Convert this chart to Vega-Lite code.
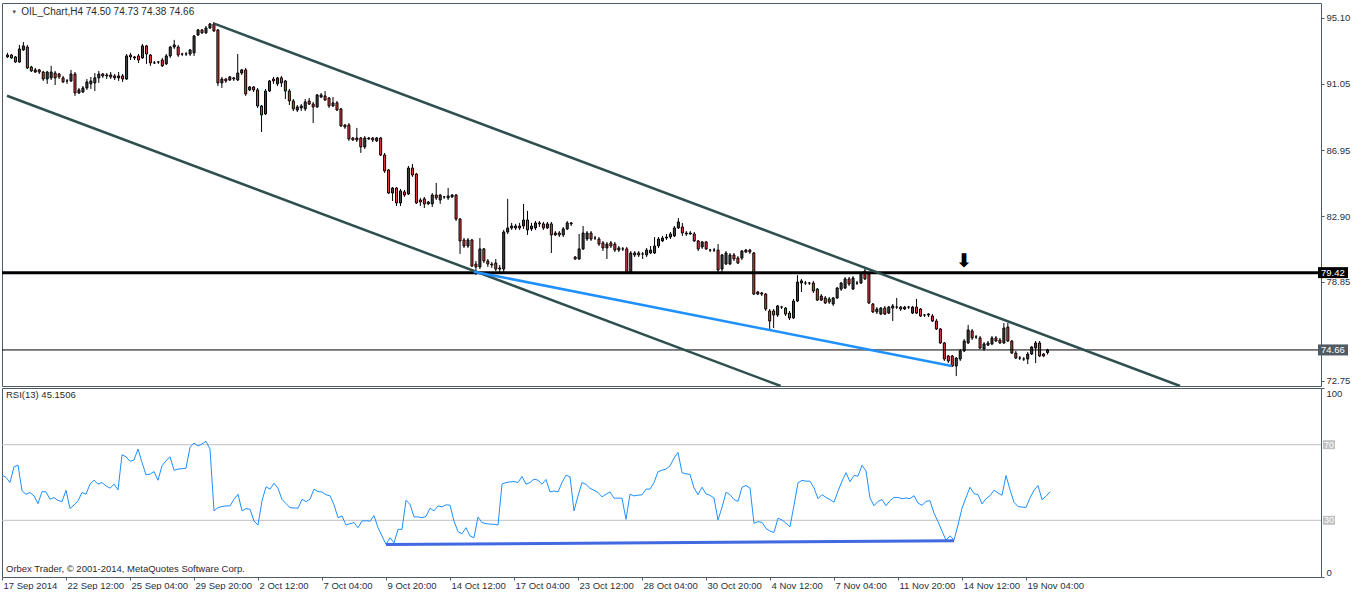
{
"$schema": "https://vega.github.io/schema/vega-lite/v6.json",
"background": "white",
"padding": {"left": -1, "top": 2, "right": 0, "bottom": 0},
"bounds": "flush",
"config": {
 "view": {"stroke": "#4e5a64", "strokeWidth": 1},
 "concat": {"spacing": 2},
 "font": "Liberation Sans",
 "axis": {"labelFont": "Liberation Sans", "labelFontSize": 9.5, "labelColor": "#27313a", "tickColor": "#4e5a64", "domain": false, "grid": false, "title": null},
 "text": {"font": "Liberation Sans"}
},
"datasets": {
 "bars": [
{"i":0,"o":92.70,"h":92.95,"l":92.64,"c":92.82,"r":53.9},
{"i":1,"o":92.82,"h":92.88,"l":92.58,"c":92.64,"r":52.7},
{"i":2,"o":92.70,"h":92.76,"l":92.33,"c":92.39,"r":50},
{"i":3,"o":92.39,"h":93.44,"l":92.33,"c":93.19,"r":58.3},
{"i":4,"o":93.13,"h":93.62,"l":93.07,"c":93.38,"r":59.2},
{"i":5,"o":93.31,"h":93.44,"l":91.96,"c":92.02,"r":45.6},
{"i":6,"o":92.08,"h":92.15,"l":91.77,"c":91.84,"r":43.8},
{"i":7,"o":91.77,"h":92.02,"l":91.71,"c":91.90,"r":44.7},
{"i":8,"o":91.90,"h":91.96,"l":91.65,"c":91.77,"r":42.9},
{"i":9,"o":91.77,"h":91.84,"l":91.22,"c":91.34,"r":38.8},
{"i":10,"o":91.34,"h":91.84,"l":91.04,"c":91.77,"r":45.2},
{"i":11,"o":91.41,"h":92.15,"l":91.28,"c":91.77,"r":45},
{"i":12,"o":91.71,"h":91.84,"l":90.97,"c":91.41,"r":41.2},
{"i":13,"o":91.65,"h":91.71,"l":91.34,"c":91.47,"r":42},
{"i":14,"o":91.41,"h":91.53,"l":91.10,"c":91.16,"r":40.5},
{"i":15,"o":91.22,"h":91.34,"l":91.04,"c":91.22,"r":39.9},
{"i":16,"o":91.22,"h":91.90,"l":91.16,"c":91.65,"r":45.9},
{"i":17,"o":91.65,"h":91.77,"l":90.30,"c":90.48,"r":36.2},
{"i":18,"o":90.48,"h":90.79,"l":90.42,"c":90.67,"r":38},
{"i":19,"o":90.54,"h":90.91,"l":90.48,"c":90.79,"r":40.3},
{"i":20,"o":90.79,"h":91.34,"l":90.67,"c":91.16,"r":44.7},
{"i":21,"o":91.04,"h":91.47,"l":90.73,"c":91.22,"r":43.8},
{"i":22,"o":91.10,"h":91.71,"l":90.60,"c":91.41,"r":49.1},
{"i":23,"o":91.41,"h":91.84,"l":91.10,"c":91.65,"r":51.2},
{"i":24,"o":91.65,"h":91.71,"l":91.41,"c":91.53,"r":49.1},
{"i":25,"o":91.53,"h":91.71,"l":91.34,"c":91.59,"r":50},
{"i":26,"o":91.59,"h":91.77,"l":91.34,"c":91.47,"r":48.2},
{"i":27,"o":91.53,"h":91.65,"l":91.28,"c":91.41,"r":47},
{"i":28,"o":91.41,"h":91.77,"l":91.22,"c":91.53,"r":49.1},
{"i":29,"o":91.53,"h":91.65,"l":91.16,"c":91.34,"r":46.1},
{"i":30,"o":91.34,"h":92.88,"l":91.28,"c":92.76,"r":64.7},
{"i":31,"o":92.82,"h":92.95,"l":92.51,"c":92.70,"r":63.6},
{"i":32,"o":92.64,"h":92.76,"l":92.51,"c":92.70,"r":61.2},
{"i":33,"o":92.76,"h":92.88,"l":92.33,"c":92.51,"r":61.9},
{"i":34,"o":92.64,"h":93.50,"l":92.58,"c":93.38,"r":67.7},
{"i":35,"o":93.38,"h":93.44,"l":92.27,"c":92.88,"r":60.6},
{"i":36,"o":92.82,"h":92.88,"l":92.15,"c":92.33,"r":54.1},
{"i":37,"o":92.33,"h":92.45,"l":92.27,"c":92.33,"r":54.4},
{"i":38,"o":92.39,"h":92.45,"l":92.27,"c":92.39,"r":55.8},
{"i":39,"o":92.51,"h":92.64,"l":92.08,"c":92.15,"r":51.2},
{"i":40,"o":92.27,"h":92.88,"l":92.21,"c":92.76,"r":58.8},
{"i":41,"o":92.76,"h":93.38,"l":92.64,"c":93.31,"r":61.5},
{"i":42,"o":93.31,"h":93.75,"l":93.19,"c":93.44,"r":63.6},
{"i":43,"o":93.31,"h":93.44,"l":92.70,"c":92.82,"r":56.5},
{"i":44,"o":92.88,"h":92.95,"l":92.76,"c":92.88,"r":57.1},
{"i":45,"o":92.88,"h":93.01,"l":92.76,"c":92.88,"r":57.3},
{"i":46,"o":92.88,"h":93.19,"l":92.76,"c":93.13,"r":57.6},
{"i":47,"o":92.95,"h":94.05,"l":92.76,"c":93.99,"r":68.6},
{"i":48,"o":94.05,"h":94.42,"l":93.99,"c":94.36,"r":70.9},
{"i":49,"o":94.36,"h":94.42,"l":94.12,"c":94.18,"r":69.3},
{"i":50,"o":94.18,"h":94.61,"l":94.12,"c":94.48,"r":70.4},
{"i":51,"o":94.48,"h":94.79,"l":94.42,"c":94.73,"r":71.8},
{"i":52,"o":94.73,"h":94.85,"l":94.24,"c":94.30,"r":67.7},
{"i":53,"o":94.36,"h":94.42,"l":90.91,"c":91.10,"r":35},
{"i":54,"o":91.10,"h":91.47,"l":90.79,"c":91.34,"r":36.7},
{"i":55,"o":91.34,"h":91.41,"l":91.10,"c":91.22,"r":37.3},
{"i":56,"o":91.28,"h":91.53,"l":91.22,"c":91.47,"r":37.6},
{"i":57,"o":91.41,"h":91.47,"l":91.22,"c":91.34,"r":37.6},
{"i":58,"o":91.28,"h":92.88,"l":91.22,"c":91.71,"r":41.1},
{"i":59,"o":91.71,"h":91.96,"l":91.59,"c":91.90,"r":43.8},
{"i":60,"o":91.90,"h":92.02,"l":90.30,"c":90.42,"r":35},
{"i":61,"o":90.67,"h":90.91,"l":90.60,"c":90.85,"r":36.2},
{"i":62,"o":90.85,"h":90.91,"l":90.54,"c":90.67,"r":35.8},
{"i":63,"o":90.67,"h":90.79,"l":89.56,"c":89.68,"r":29.6},
{"i":64,"o":89.68,"h":89.74,"l":88.08,"c":89.13,"r":27.5},
{"i":65,"o":89.19,"h":90.73,"l":89.13,"c":90.60,"r":40.3},
{"i":66,"o":90.60,"h":91.28,"l":90.54,"c":91.22,"r":47.7},
{"i":67,"o":91.34,"h":91.47,"l":91.04,"c":91.22,"r":46.5},
{"i":68,"o":91.04,"h":91.47,"l":90.91,"c":91.41,"r":49.6},
{"i":69,"o":91.41,"h":91.53,"l":90.85,"c":91.10,"r":46.9},
{"i":70,"o":91.22,"h":91.28,"l":90.11,"c":90.60,"r":41.1},
{"i":71,"o":90.60,"h":90.73,"l":89.74,"c":89.99,"r":38.8},
{"i":72,"o":89.99,"h":90.11,"l":89.37,"c":89.50,"r":36.7},
{"i":73,"o":89.43,"h":89.74,"l":89.31,"c":89.62,"r":36.5},
{"i":74,"o":89.56,"h":89.80,"l":89.37,"c":89.68,"r":36.4},
{"i":75,"o":89.50,"h":90.11,"l":89.37,"c":89.93,"r":41.1},
{"i":76,"o":89.99,"h":90.17,"l":89.74,"c":89.80,"r":39.9},
{"i":77,"o":89.80,"h":89.93,"l":88.63,"c":89.62,"r":41.1},
{"i":78,"o":89.62,"h":90.42,"l":89.56,"c":90.36,"r":46.5},
{"i":79,"o":90.23,"h":90.48,"l":90.17,"c":90.36,"r":45.2},
{"i":80,"o":90.30,"h":90.60,"l":89.99,"c":90.05,"r":45},
{"i":81,"o":90.17,"h":90.23,"l":89.56,"c":89.68,"r":43.5},
{"i":82,"o":89.68,"h":90.23,"l":89.62,"c":89.87,"r":43},
{"i":83,"o":89.87,"h":89.99,"l":89.37,"c":89.43,"r":38.2},
{"i":84,"o":89.50,"h":89.56,"l":88.39,"c":88.45,"r":31.4},
{"i":85,"o":88.51,"h":88.57,"l":88.27,"c":88.39,"r":32.3},
{"i":86,"o":88.51,"h":88.63,"l":87.53,"c":87.65,"r":27.5},
{"i":87,"o":87.71,"h":87.77,"l":87.53,"c":87.59,"r":28.2},
{"i":88,"o":87.59,"h":88.33,"l":87.46,"c":87.71,"r":28.8},
{"i":89,"o":87.71,"h":87.77,"l":86.79,"c":87.16,"r":26.1},
{"i":90,"o":87.16,"h":87.83,"l":87.03,"c":87.71,"r":29.6},
{"i":91,"o":87.71,"h":87.77,"l":87.59,"c":87.65,"r":29.8},
{"i":92,"o":87.71,"h":87.77,"l":87.46,"c":87.59,"r":29.5},
{"i":93,"o":87.53,"h":87.77,"l":87.46,"c":87.71,"r":32.5},
{"i":94,"o":87.71,"h":87.77,"l":86.60,"c":86.66,"r":26.1},
{"i":95,"o":86.66,"h":86.79,"l":85.56,"c":85.68,"r":21.7},
{"i":96,"o":85.74,"h":85.80,"l":84.26,"c":84.32,"r":17.3},
{"i":97,"o":84.32,"h":84.69,"l":83.83,"c":84.63,"r":20.8},
{"i":98,"o":84.63,"h":84.69,"l":83.52,"c":83.71,"r":18.1},
{"i":99,"o":83.71,"h":84.57,"l":83.52,"c":84.45,"r":25.2},
{"i":100,"o":84.39,"h":84.51,"l":84.08,"c":84.20,"r":25.2},
{"i":101,"o":84.26,"h":85.99,"l":84.20,"c":85.86,"r":40.6},
{"i":102,"o":85.86,"h":86.11,"l":85.31,"c":85.43,"r":38.5},
{"i":103,"o":85.49,"h":85.56,"l":83.65,"c":83.71,"r":31.8},
{"i":104,"o":83.89,"h":84.02,"l":83.52,"c":83.77,"r":31.8},
{"i":105,"o":83.96,"h":84.08,"l":83.40,"c":83.65,"r":31.4},
{"i":106,"o":83.65,"h":83.83,"l":83.59,"c":83.77,"r":32},
{"i":107,"o":83.65,"h":84.32,"l":83.46,"c":84.20,"r":36.4},
{"i":108,"o":84.20,"h":84.94,"l":83.89,"c":84.02,"r":35},
{"i":109,"o":83.89,"h":84.26,"l":83.65,"c":84.20,"r":37.6},
{"i":110,"o":84.08,"h":84.14,"l":83.96,"c":84.08,"r":37.1},
{"i":111,"o":84.02,"h":84.63,"l":83.89,"c":84.14,"r":38.2},
{"i":112,"o":84.08,"h":84.26,"l":84.02,"c":84.20,"r":38},
{"i":113,"o":84.20,"h":84.26,"l":82.60,"c":82.72,"r":29.6},
{"i":114,"o":82.72,"h":82.78,"l":80.57,"c":81.37,"r":24},
{"i":115,"o":81.43,"h":81.55,"l":80.94,"c":81.06,"r":22.9},
{"i":116,"o":81.06,"h":81.55,"l":80.94,"c":81.43,"r":26.1},
{"i":117,"o":81.43,"h":81.49,"l":79.77,"c":79.83,"r":21.7},
{"i":118,"o":79.95,"h":80.14,"l":79.27,"c":79.77,"r":20.8},
{"i":119,"o":79.77,"h":81.55,"l":79.64,"c":80.88,"r":31.8},
{"i":120,"o":80.88,"h":80.94,"l":80.01,"c":80.14,"r":28.8},
{"i":121,"o":80.14,"h":80.26,"l":79.77,"c":79.95,"r":28.2},
{"i":122,"o":79.89,"h":80.07,"l":79.71,"c":79.95,"r":28},
{"i":123,"o":80.01,"h":80.26,"l":79.52,"c":79.64,"r":27.9},
{"i":124,"o":79.71,"h":79.89,"l":79.40,"c":79.64,"r":27.5},
{"i":125,"o":79.64,"h":82.05,"l":79.40,"c":81.92,"r":49.1},
{"i":126,"o":81.92,"h":83.96,"l":81.80,"c":82.17,"r":50},
{"i":127,"o":82.17,"h":82.48,"l":82.05,"c":82.29,"r":50.3},
{"i":128,"o":82.17,"h":82.42,"l":82.05,"c":82.29,"r":50.5},
{"i":129,"o":82.29,"h":82.48,"l":82.05,"c":82.17,"r":50},
{"i":130,"o":82.29,"h":83.65,"l":82.11,"c":82.66,"r":53.2},
{"i":131,"o":82.66,"h":83.22,"l":81.74,"c":82.05,"r":49.1},
{"i":132,"o":82.11,"h":82.48,"l":81.98,"c":82.29,"r":50},
{"i":133,"o":82.17,"h":82.60,"l":82.05,"c":82.48,"r":51.8},
{"i":134,"o":82.48,"h":82.60,"l":82.23,"c":82.42,"r":51.2},
{"i":135,"o":82.42,"h":82.54,"l":82.05,"c":82.17,"r":49.1},
{"i":136,"o":82.17,"h":82.54,"l":82.11,"c":82.42,"r":51.6},
{"i":137,"o":82.42,"h":82.54,"l":80.63,"c":81.74,"r":45},
{"i":138,"o":81.74,"h":81.98,"l":81.68,"c":81.86,"r":45.5},
{"i":139,"o":81.86,"h":81.98,"l":81.61,"c":81.74,"r":45},
{"i":140,"o":81.74,"h":82.23,"l":81.61,"c":82.11,"r":50},
{"i":141,"o":82.11,"h":82.60,"l":82.05,"c":82.48,"r":53.9},
{"i":142,"o":82.48,"h":82.54,"l":82.29,"c":82.42,"r":53},
{"i":143,"o":80.38,"h":80.44,"l":80.20,"c":80.26,"r":35},
{"i":144,"o":80.26,"h":81.80,"l":80.20,"c":80.88,"r":42.9},
{"i":145,"o":80.88,"h":82.29,"l":80.81,"c":81.86,"r":50},
{"i":146,"o":81.49,"h":81.98,"l":81.37,"c":81.86,"r":49},
{"i":147,"o":81.86,"h":81.98,"l":81.37,"c":81.49,"r":46.9},
{"i":148,"o":81.55,"h":81.68,"l":81.43,"c":81.55,"r":45.9},
{"i":149,"o":81.49,"h":81.61,"l":81.06,"c":81.18,"r":44.7},
{"i":150,"o":81.25,"h":81.37,"l":80.75,"c":80.94,"r":42.4},
{"i":151,"o":80.94,"h":81.31,"l":80.26,"c":81.18,"r":43.8},
{"i":152,"o":81.25,"h":81.37,"l":80.94,"c":81.06,"r":45},
{"i":153,"o":81.18,"h":81.31,"l":80.69,"c":80.81,"r":41.7},
{"i":154,"o":80.81,"h":81.06,"l":80.69,"c":80.94,"r":41.7},
{"i":155,"o":80.88,"h":81.00,"l":80.75,"c":80.88,"r":41.7},
{"i":156,"o":80.88,"h":81.00,"l":79.40,"c":79.46,"r":30.5},
{"i":157,"o":79.46,"h":80.75,"l":79.40,"c":80.63,"r":43.8},
{"i":158,"o":80.51,"h":80.75,"l":80.38,"c":80.63,"r":42.9},
{"i":159,"o":80.63,"h":80.75,"l":80.38,"c":80.51,"r":43.3},
{"i":160,"o":80.57,"h":80.69,"l":80.26,"c":80.57,"r":43.5},
{"i":161,"o":80.51,"h":80.94,"l":80.38,"c":80.81,"r":46.5},
{"i":162,"o":80.63,"h":81.06,"l":80.57,"c":80.81,"r":46.5},
{"i":163,"o":80.63,"h":81.61,"l":80.57,"c":81.06,"r":50},
{"i":164,"o":81.06,"h":81.61,"l":80.94,"c":81.49,"r":55.7},
{"i":165,"o":81.37,"h":81.68,"l":81.31,"c":81.55,"r":56.5},
{"i":166,"o":81.55,"h":81.80,"l":81.43,"c":81.61,"r":57.1},
{"i":167,"o":81.61,"h":81.92,"l":81.49,"c":81.80,"r":58.8},
{"i":168,"o":81.68,"h":82.29,"l":81.61,"c":82.17,"r":62.9},
{"i":169,"o":82.17,"h":82.78,"l":82.11,"c":82.54,"r":65.9},
{"i":170,"o":82.23,"h":82.48,"l":81.68,"c":81.86,"r":55.2},
{"i":171,"o":81.86,"h":81.98,"l":81.68,"c":81.80,"r":54.6},
{"i":172,"o":81.80,"h":81.98,"l":81.74,"c":81.86,"r":54.3},
{"i":173,"o":81.80,"h":81.92,"l":81.31,"c":81.37,"r":47.1},
{"i":174,"o":81.37,"h":81.43,"l":80.75,"c":80.88,"r":43.6},
{"i":175,"o":81.00,"h":81.37,"l":80.88,"c":81.31,"r":47.5},
{"i":176,"o":81.31,"h":81.37,"l":80.81,"c":80.88,"r":43.9},
{"i":177,"o":80.81,"h":80.88,"l":80.69,"c":80.81,"r":43.2},
{"i":178,"o":80.81,"h":80.94,"l":80.69,"c":80.81,"r":41.8},
{"i":179,"o":80.81,"h":81.18,"l":79.46,"c":79.58,"r":30.2},
{"i":180,"o":79.64,"h":80.57,"l":79.46,"c":80.51,"r":36.8},
{"i":181,"o":79.95,"h":80.75,"l":79.89,"c":80.63,"r":44.8},
{"i":182,"o":79.95,"h":80.63,"l":79.89,"c":80.51,"r":43.6},
{"i":183,"o":80.51,"h":80.63,"l":80.14,"c":80.26,"r":41},
{"i":184,"o":80.32,"h":80.44,"l":79.95,"c":80.01,"r":40},
{"i":185,"o":80.32,"h":80.81,"l":80.20,"c":80.75,"r":47.5},
{"i":186,"o":80.69,"h":80.88,"l":80.63,"c":80.81,"r":48.4},
{"i":187,"o":80.81,"h":80.88,"l":80.57,"c":80.69,"r":47.1},
{"i":188,"o":80.63,"h":80.69,"l":78.04,"c":78.10,"r":28.4},
{"i":189,"o":78.10,"h":78.29,"l":78.04,"c":78.23,"r":29.3},
{"i":190,"o":78.17,"h":78.23,"l":77.98,"c":78.10,"r":28.9},
{"i":191,"o":78.10,"h":78.17,"l":77.06,"c":77.18,"r":25.7},
{"i":192,"o":77.06,"h":77.18,"l":75.83,"c":76.44,"r":24.3},
{"i":193,"o":77.06,"h":77.18,"l":76.01,"c":76.81,"r":23.6},
{"i":194,"o":76.81,"h":77.43,"l":76.69,"c":77.37,"r":31.1},
{"i":195,"o":77.30,"h":77.37,"l":77.18,"c":77.30,"r":30.2},
{"i":196,"o":77.24,"h":77.30,"l":76.75,"c":76.87,"r":28.4},
{"i":197,"o":76.93,"h":77.06,"l":76.50,"c":76.63,"r":26.6},
{"i":198,"o":76.63,"h":77.80,"l":76.57,"c":77.67,"r":38},
{"i":199,"o":77.67,"h":79.27,"l":77.61,"c":78.84,"r":49.8},
{"i":200,"o":78.78,"h":79.03,"l":78.23,"c":78.91,"r":51.1},
{"i":201,"o":78.78,"h":78.91,"l":78.66,"c":78.78,"r":50.7},
{"i":202,"o":78.78,"h":78.84,"l":78.66,"c":78.78,"r":50.7},
{"i":203,"o":78.78,"h":78.91,"l":78.17,"c":78.29,"r":47.1},
{"i":204,"o":78.41,"h":78.47,"l":77.67,"c":77.73,"r":41.4},
{"i":205,"o":77.73,"h":78.10,"l":77.67,"c":77.98,"r":43.6},
{"i":206,"o":77.86,"h":77.98,"l":77.49,"c":77.55,"r":42.1},
{"i":207,"o":77.80,"h":77.92,"l":77.49,"c":77.61,"r":40.9},
{"i":208,"o":77.49,"h":77.92,"l":77.37,"c":77.86,"r":39.6},
{"i":209,"o":77.86,"h":78.54,"l":77.80,"c":78.47,"r":45.4},
{"i":210,"o":78.41,"h":78.84,"l":78.29,"c":78.78,"r":50.7},
{"i":211,"o":78.47,"h":79.15,"l":78.41,"c":79.03,"r":55.2},
{"i":212,"o":79.03,"h":79.15,"l":78.60,"c":78.72,"r":50.4},
{"i":213,"o":78.41,"h":79.21,"l":78.35,"c":79.09,"r":53.7},
{"i":214,"o":78.78,"h":78.91,"l":78.66,"c":78.78,"r":53.4},
{"i":215,"o":78.78,"h":79.46,"l":78.72,"c":79.40,"r":59.1},
{"i":216,"o":79.52,"h":79.71,"l":78.97,"c":79.03,"r":56.1},
{"i":217,"o":79.34,"h":79.46,"l":77.49,"c":77.55,"r":41.8},
{"i":218,"o":77.49,"h":77.55,"l":76.93,"c":77.00,"r":37.7},
{"i":219,"o":77.00,"h":77.30,"l":76.87,"c":77.18,"r":40},
{"i":220,"o":76.87,"h":77.30,"l":76.81,"c":77.24,"r":41},
{"i":221,"o":77.24,"h":77.37,"l":76.81,"c":76.87,"r":37.7},
{"i":222,"o":76.93,"h":77.37,"l":76.87,"c":77.30,"r":40.4},
{"i":223,"o":77.24,"h":77.49,"l":76.44,"c":77.37,"r":42.1},
{"i":224,"o":77.30,"h":77.86,"l":77.18,"c":77.30,"r":42.1},
{"i":225,"o":77.30,"h":77.37,"l":77.06,"c":77.18,"r":41.4},
{"i":226,"o":77.18,"h":77.37,"l":77.12,"c":77.30,"r":41.8},
{"i":227,"o":77.30,"h":77.37,"l":77.18,"c":77.30,"r":41.5},
{"i":228,"o":76.93,"h":77.37,"l":76.87,"c":77.30,"r":43},
{"i":229,"o":77.30,"h":77.80,"l":76.87,"c":76.93,"r":39.1},
{"i":230,"o":77.18,"h":77.24,"l":76.69,"c":76.75,"r":37.9},
{"i":231,"o":76.81,"h":76.87,"l":76.69,"c":76.81,"r":40},
{"i":232,"o":76.87,"h":76.93,"l":76.69,"c":76.81,"r":40.4},
{"i":233,"o":76.75,"h":76.87,"l":76.38,"c":76.44,"r":33.7},
{"i":234,"o":76.44,"h":76.57,"l":75.89,"c":75.95,"r":29.3},
{"i":235,"o":75.95,"h":76.01,"l":75.03,"c":75.09,"r":24.3},
{"i":236,"o":75.09,"h":75.15,"l":73.98,"c":74.10,"r":19.5},
{"i":237,"o":74.29,"h":74.35,"l":73.85,"c":73.98,"r":21.8},
{"i":238,"o":74.29,"h":74.35,"l":73.61,"c":73.67,"r":19.5},
{"i":239,"o":73.67,"h":74.22,"l":73.05,"c":74.16,"r":27.5},
{"i":240,"o":74.10,"h":74.72,"l":73.98,"c":74.60,"r":36.4},
{"i":241,"o":74.60,"h":75.33,"l":74.53,"c":75.21,"r":42},
{"i":242,"o":75.09,"h":76.20,"l":75.03,"c":75.89,"r":47.5},
{"i":243,"o":75.83,"h":75.95,"l":75.27,"c":75.40,"r":44.1},
{"i":244,"o":75.46,"h":75.58,"l":75.33,"c":75.46,"r":43.6},
{"i":245,"o":75.40,"h":75.52,"l":74.72,"c":74.78,"r":38.7},
{"i":246,"o":74.72,"h":75.15,"l":74.60,"c":75.03,"r":41.4},
{"i":247,"o":74.96,"h":75.21,"l":74.90,"c":75.09,"r":43},
{"i":248,"o":75.03,"h":75.52,"l":74.96,"c":75.40,"r":45.9},
{"i":249,"o":75.40,"h":75.52,"l":75.15,"c":75.21,"r":44.5},
{"i":250,"o":75.27,"h":75.40,"l":75.03,"c":75.09,"r":43.2},
{"i":251,"o":75.09,"h":76.32,"l":75.03,"c":76.01,"r":53.7},
{"i":252,"o":76.07,"h":76.32,"l":75.15,"c":75.21,"r":46.2},
{"i":253,"o":75.21,"h":75.27,"l":74.41,"c":74.47,"r":39.5},
{"i":254,"o":74.47,"h":74.60,"l":74.10,"c":74.16,"r":37.3},
{"i":255,"o":74.16,"h":74.29,"l":74.04,"c":74.16,"r":37},
{"i":256,"o":74.10,"h":74.22,"l":73.98,"c":74.10,"r":36.8},
{"i":257,"o":74.10,"h":74.53,"l":73.79,"c":74.41,"r":41.8},
{"i":258,"o":74.41,"h":74.90,"l":74.35,"c":74.84,"r":45.9},
{"i":259,"o":74.78,"h":75.21,"l":73.85,"c":75.09,"r":48.4},
{"i":260,"o":75.09,"h":75.21,"l":74.22,"c":74.29,"r":40.9},
{"i":261,"o":74.41,"h":74.47,"l":74.22,"c":74.29,"r":42.7},
{"i":262,"o":74.50,"h":74.73,"l":74.38,"c":74.66,"r":45.15}
 ],
 "levels": [{"p":79.42,"label":"79.42","kind":"res"},{"p":74.66,"label":"74.66","kind":"last"}],
 "trend": [
  {"name":"upper","i":52.2,"p":94.75},{"name":"upper","i":295.5,"p":72.44},
  {"name":"lower","i":0,"p":90.31},{"name":"lower","i":194.9,"p":72.44},
  {"name":"support","i":117.6,"p":79.48},{"name":"support","i":238,"p":73.67}
 ],
 "rsilev": [{"r":70,"label":"70"},{"r":30,"label":"30"}],
 "rsitrend": [{"i":96,"r":17.2},{"i":238,"r":19.2}]
},
"vconcat": [
 {
  "width": 1319, "height": 383,
  "layer": [
   {"data": {"name": "bars"},
    "mark": {"type": "rule", "color": "#000000", "strokeWidth": 1, "xOffset": 0.5},
    "encoding": {
     "x": {"field": "i", "type": "quantitative", "scale": {"domain": [0, 329.75], "nice": false, "zero": false}, "axis": null},
     "y": {"field": "l", "type": "quantitative", "scale": {"domain": [72.44, 96.02], "nice": false, "zero": false},
           "axis": {"orient": "right", "values": [95.10, 93.05, 91.05, 89.00, 86.95, 84.95, 82.90, 80.90, 78.85, 76.80, 72.75], "format": ".2f", "tickSize": 3, "labelPadding": 2}},
     "y2": {"field": "h"}}},
   {"data": {"name": "bars"},
    "mark": {"type": "bar", "size": 2, "xOffset": 0.5, "stroke": "#000000", "strokeWidth": 1},
    "encoding": {
     "x": {"field": "i", "type": "quantitative"},
     "y": {"field": "o", "type": "quantitative"},
     "y2": {"field": "c"},
     "color": {"condition": [{"test": "datum.c == datum.o", "value": "#808080"}, {"test": "datum.c < datum.o", "value": "#f23c3c"}], "value": "#454545"}}},
   {"data": {"name": "levels"},
    "mark": {"type": "rule", "color": "#000000"},
    "encoding": {
     "y": {"field": "p", "type": "quantitative"},
     "strokeWidth": {"condition": {"test": "datum.kind === 'res'", "value": 3}, "value": 1}}},
   {"data": {"name": "trend"},
    "mark": {"type": "line", "clip": true, "strokeWidth": 2.5},
    "encoding": {
     "x": {"field": "i", "type": "quantitative"},
     "y": {"field": "p", "type": "quantitative"},
     "detail": {"field": "name", "type": "nominal"},
     "color": {"field": "name", "type": "nominal", "scale": {"domain": ["upper", "lower", "support"], "range": ["#2f4f4f", "#2f4f4f", "#1e90ff"]}, "legend": null}}},
   {"data": {"name": "levels"},
    "mark": {"type": "rect", "xOffset": 2, "x2Offset": 32, "yOffset": -5.5, "y2Offset": 5.5, "clip": false},
    "encoding": {
     "x": {"datum": 329.75}, "x2": {"datum": 329.75},
     "y": {"field": "p", "type": "quantitative"}, "y2": {"field": "p"},
     "fill": {"condition": {"test": "datum.kind === 'res'", "value": "#000000"}, "value": "#505a62"}}},
   {"data": {"name": "levels"},
    "mark": {"type": "text", "align": "left", "baseline": "middle", "dx": 5, "fontSize": 9.5, "color": "#ffffff", "clip": false},
    "encoding": {
     "x": {"datum": 329.75},
     "y": {"field": "p", "type": "quantitative"},
     "text": {"field": "label"}}},
   {"data": {"values": [{}]},
    "mark": {"type": "text", "align": "left", "baseline": "middle", "fontSize": 6, "color": "#555555"},
    "encoding": {"x": {"datum": 1.1}, "y": {"datum": 95.48}, "text": {"value": "▼"}}},
   {"data": {"values": [{}]},
    "mark": {"type": "text", "align": "left", "baseline": "middle", "fontSize": 10, "color": "#2a2a2a"},
    "encoding": {"x": {"datum": 3.6}, "y": {"datum": 95.48}, "text": {"value": "OIL_Chart,H4  74.50 74.73 74.38 74.66"}}},
   {"data": {"values": [{}]},
    "mark": {"type": "text", "align": "center", "baseline": "middle", "fontSize": 19, "fontWeight": "bold", "color": "#000000", "font": "DejaVu Sans"},
    "encoding": {"x": {"datum": 241.1}, "y": {"datum": 80.14}, "text": {"value": "⬇"}}}
  ]
 },
 {
  "width": 1319, "height": 189,
  "layer": [
   {"data": {"name": "rsilev"},
    "mark": {"type": "rule", "color": "#c0c0c0", "strokeWidth": 1},
    "encoding": {
     "y": {"field": "r", "type": "quantitative", "scale": {"domain": [0, 100], "nice": false, "zero": false},
           "axis": {"orient": "right", "values": [0, 100], "tickSize": 3, "labelFlush": true, "labelPadding": 2}}}},
   {"data": {"name": "bars"},
    "mark": {"type": "line", "color": "#1e90ff", "strokeWidth": 1},
    "encoding": {
     "x": {"field": "i", "type": "quantitative", "scale": {"domain": [0, 329.75], "nice": false, "zero": false},
           "axis": {"orient": "bottom", "values": [0,16,32,48,64,80,96,112,128,144,160,176,192,208,224,240,256],
                    "labelExpr": "['17 Sep 2014','22 Sep 12:00','25 Sep 04:00','29 Sep 20:00','2 Oct 12:00','7 Oct 04:00','9 Oct 20:00','14 Oct 12:00','17 Oct 04:00','23 Oct 12:00','28 Oct 04:00','30 Oct 20:00','4 Nov 12:00','7 Nov 04:00','11 Nov 20:00','14 Nov 12:00','19 Nov 04:00'][round(datum.value/16)]",
                    "labelAlign": "left", "labelOffset": 1, "tickSize": 3, "labelPadding": 0, "labelOverlap": false, "labelFlush": false, "labelBound": false}},
     "y": {"field": "r", "type": "quantitative"}}},
   {"data": {"name": "rsitrend"},
    "mark": {"type": "line", "color": "#4169e1", "strokeWidth": 3},
    "encoding": {
     "x": {"field": "i", "type": "quantitative"},
     "y": {"field": "r", "type": "quantitative"}}},
   {"data": {"name": "rsilev"},
    "mark": {"type": "rect", "xOffset": 2, "x2Offset": 14, "yOffset": -4.5, "y2Offset": 4.5, "clip": false, "fill": "#c0c0c0"},
    "encoding": {
     "x": {"datum": 329.75}, "x2": {"datum": 329.75},
     "y": {"field": "r", "type": "quantitative"}, "y2": {"field": "r"}}},
   {"data": {"name": "rsilev"},
    "mark": {"type": "text", "align": "left", "baseline": "middle", "dx": 3, "fontSize": 9, "color": "#ffffff", "clip": false},
    "encoding": {
     "x": {"datum": 329.75},
     "y": {"field": "r", "type": "quantitative"},
     "text": {"field": "label"}}},
   {"data": {"values": [{}]},
    "mark": {"type": "text", "align": "left", "baseline": "middle", "fontSize": 9.5, "color": "#2a2a2a"},
    "encoding": {"x": {"datum": 1}, "y": {"datum": 96.2}, "text": {"value": "RSI(13) 45.1506"}}},
   {"data": {"values": [{}]},
    "mark": {"type": "text", "align": "left", "baseline": "middle", "fontSize": 9.5, "color": "#2a2a2a"},
    "encoding": {"x": {"datum": 1}, "y": {"datum": 4.2}, "text": {"value": "Orbex Trader, © 2001-2014, MetaQuotes Software Corp."}}}
  ]
 }
]
}
